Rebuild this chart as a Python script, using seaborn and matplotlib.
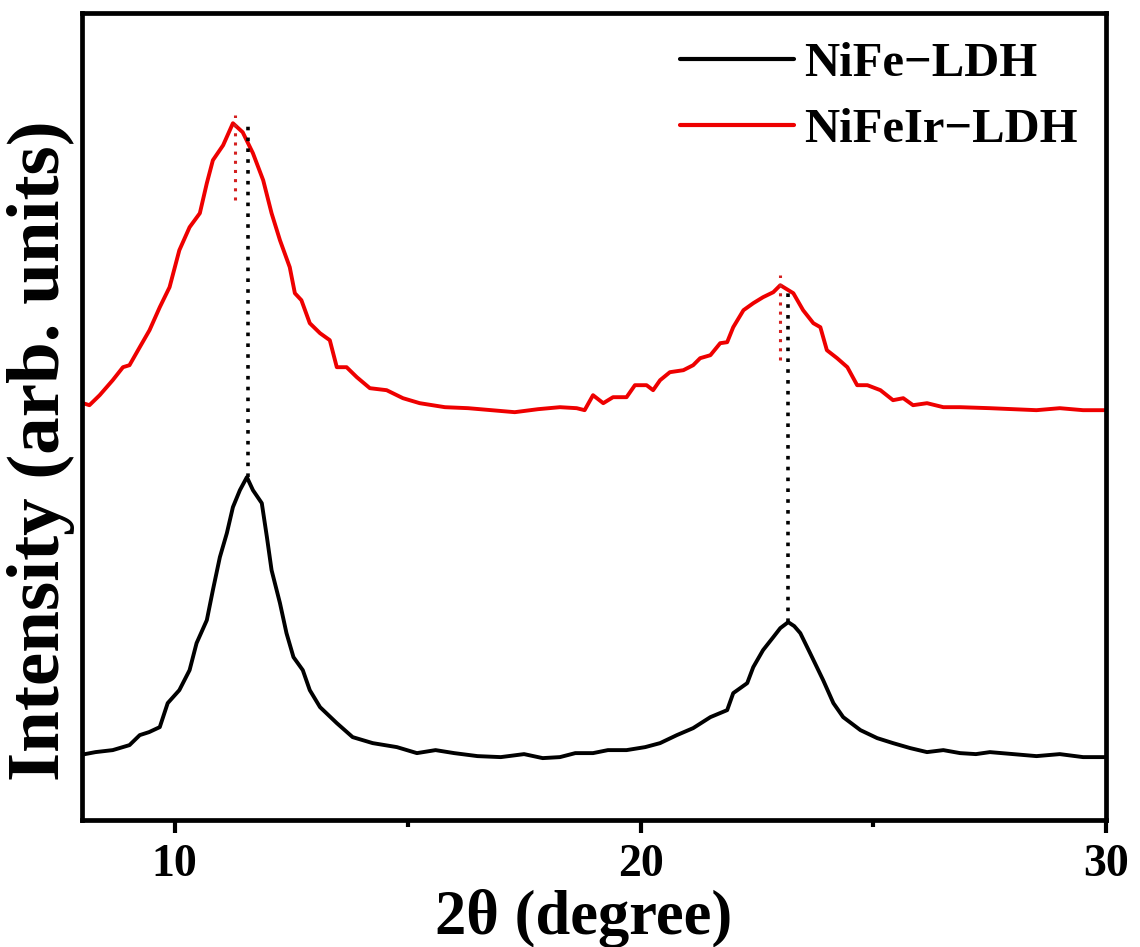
import numpy as np
import pandas as pd
import matplotlib
matplotlib.use("Agg")
import matplotlib.pyplot as plt
import seaborn as sns

# ---------------- data ----------------
nife_x = [7.96, 8.3, 8.67, 9.03, 9.25, 9.45, 9.68, 9.85, 10.1, 10.32, 10.47, 10.69, 10.82,
          10.97, 11.12, 11.25, 11.4, 11.55, 11.68, 11.87, 11.98, 12.08, 12.26, 12.4,
          12.55, 12.75, 12.9, 13.12, 13.48, 13.82, 14.25, 14.77, 15.2, 15.6, 16.0, 16.5,
          17.0, 17.5, 17.9, 18.27, 18.6, 18.98, 19.3, 19.7, 20.1, 20.42, 20.78, 21.13,
          21.5, 21.86, 21.99, 22.29, 22.42, 22.63, 22.85, 23.0, 23.17, 23.3, 23.43, 23.64,
          23.92, 24.14, 24.35, 24.72, 25.08, 25.42, 25.79, 26.15, 26.5, 26.86, 27.2,
          27.5, 28.0, 28.5, 29.0, 29.5, 30.0]
nife_y = [65, 68, 70, 75, 85, 88, 93, 117, 130, 150, 177, 200, 230,
          263, 287, 313, 330, 343, 330, 317, 283, 250, 217, 187,
          163, 150, 130, 113, 97, 83, 77, 73, 67, 70, 67, 64,
          63, 66, 62, 63, 67, 67, 70, 70, 73, 77, 85, 92,
          103, 110, 127, 137, 153, 170, 183, 192, 198, 194, 187, 167,
          140, 117, 103, 90, 82, 77, 72, 68, 70, 67, 66,
          68, 66, 64, 66, 63, 63]

nifeir_x = [7.96, 8.17, 8.39, 8.67, 8.89, 9.03, 9.25, 9.46, 9.68, 9.89, 10.1, 10.32, 10.54,
            10.69, 10.82, 11.04, 11.25, 11.46, 11.68, 11.9, 12.08, 12.26, 12.47, 12.58,
            12.72, 12.9, 13.12, 13.33, 13.48, 13.69, 13.91, 14.19, 14.55, 14.9, 15.26,
            15.8, 16.3, 16.8, 17.3, 17.8, 18.27, 18.63, 18.8, 18.98, 19.2, 19.41, 19.7,
            19.88, 20.13, 20.27, 20.42, 20.63, 20.92, 21.13, 21.28, 21.5, 21.71, 21.86,
            21.99, 22.21, 22.42, 22.63, 22.85, 23.0, 23.28, 23.49, 23.71, 23.86, 24.0,
            24.22, 24.44, 24.65, 24.87, 25.15, 25.42, 25.64, 25.85, 26.15, 26.5, 26.86,
            27.5, 28.0, 28.5, 29.0, 29.5, 30.0]
nifeir_y = [418, 415, 425, 440, 453, 455, 473, 490, 513, 533, 570, 593, 607,
            637, 660, 675, 697, 688, 667, 640, 607, 580, 553, 527,
            520, 497, 487, 480, 453, 453, 443, 432, 430, 422, 417,
            413, 412, 410, 408, 411, 413, 412, 410, 425, 417, 423, 423,
            435, 435, 430, 440, 448, 450, 455, 462, 465, 477, 478,
            493, 510, 517, 523, 528, 535, 527, 510, 497, 493, 470,
            462, 453, 435, 435, 430, 420, 422, 415, 417, 413, 413,
            412, 411, 410, 412, 410, 410]

# peak guide lines: x position, y start, y end
black_guides_x = [11.57, 23.17]
black_guides_y0 = [343, 198]
black_guides_y1 = [697, 532]
red_guides_x = [11.29, 23.0]
red_guides_y0 = [620, 460]
red_guides_y1 = [705, 545]

series_names = ["NiFe\u2212LDH", "NiFeIr\u2212LDH"]
x_ticks = [10, 20, 30]
x_minor = [15, 25]

# ---------------- plotting ----------------
sns.set_style("ticks")
plt.rcParams["font.family"] = ["Liberation Serif", "DejaVu Serif"]
plt.rcParams["font.weight"] = "bold"
for k in ["text.color", "axes.labelcolor", "xtick.color", "ytick.color", "axes.edgecolor"]:
    plt.rcParams[k] = "black"

df = pd.concat([
    pd.DataFrame({"x": nife_x, "y": nife_y, "s": series_names[0]}),
    pd.DataFrame({"x": nifeir_x, "y": nifeir_y, "s": series_names[1]}),
])

fig = plt.figure(figsize=(11.4, 9.47), dpi=100)
ax = fig.add_axes([0.0715, 0.134, 0.899, 0.852])

palette = {series_names[0]: "black", series_names[1]: "#ee0000"}
sns.lineplot(data=df, x="x", y="y", hue="s", palette=palette, ax=ax,
             linewidth=2.8, sort=False, estimator=None)

ax.vlines(black_guides_x, black_guides_y0, black_guides_y1, colors="black",
          linestyles=(0, (1, 2)), linewidth=2.6)
ax.vlines(red_guides_x, red_guides_y0, red_guides_y1, colors="#d42020",
          linestyles=(0, (1, 2)), linewidth=2.2)

ax.set_xlim(8, 30)
ax.set_ylim(0, 807)
ax.set_xticks(x_ticks)
ax.set_xticks(x_minor, minor=True)
ax.set_yticks([])
ax.tick_params(axis="x", which="major", direction="out", length=9, width=3,
               labelsize=33, pad=8, colors="black")
ax.tick_params(axis="x", which="minor", direction="out", length=5, width=3)
for lab in ax.get_xticklabels():
    lab.set_fontweight("bold")
for sp in ax.spines.values():
    sp.set_linewidth(3.4)
    sp.set_color("black")
    sp.set_visible(True)

ax.set_xlabel("2\u03b8 (degree)", fontsize=45, fontweight="bold")
ax.xaxis.set_label_coords(0.49, -0.085)
ax.set_ylabel("Intensity (arb. units)", fontsize=54, fontweight="bold")
ax.yaxis.set_label_coords(-0.006, 0.458)

leg = ax.legend(loc="upper right", bbox_to_anchor=(1.0, 1.0), frameon=False,
                prop={"size": 35, "weight": "bold"}, handlelength=2.35,
                handletextpad=0.2, labelspacing=0.45, borderaxespad=0.2)
for h in leg.get_lines():
    h.set_linewidth(3)

fig.savefig("out.png", dpi=100)
